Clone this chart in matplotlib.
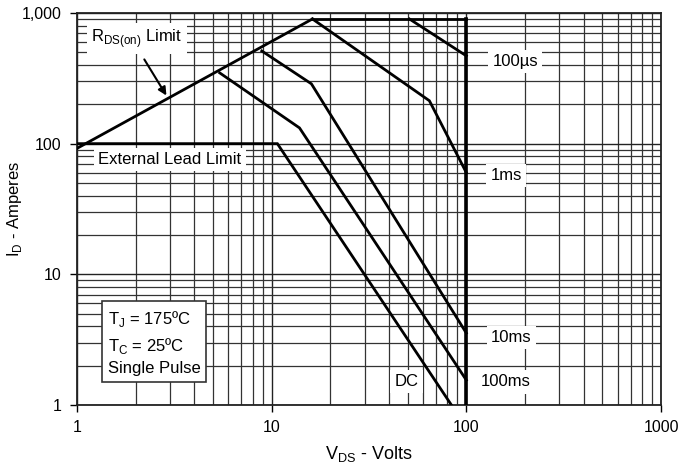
import numpy as np
import matplotlib.pyplot as plt
from matplotlib.ticker import FixedLocator, FixedFormatter, NullFormatter

plt.rcParams['font.family'] = ['Liberation Sans', 'DejaVu Sans']

# Grenzlinien des sicheren Arbeitsbereichs (V_DS in V, I_D in A)
rds_v = [1, 16.2]
rds_i = [92, 900]
top_v = [16.2, 100]
top_i = [900, 900]
us100_v = [51, 100]
us100_i = [900, 470]
ms1_v = [16.2, 64.6, 100]
ms1_i = [900, 213, 60]
ms10_v = [8.9, 16.0, 100]
ms10_i = [512, 287, 3.55]
ms100_v = [5.41, 13.9, 100]
ms100_i = [348, 132, 1.55]
dc_v = [1, 10.7, 83.8]
dc_i = [100, 100, 1]
vert_v = [100, 100]
vert_i = [900, 1]

xticks = [1, 10, 100, 1000]
xlabels = ["1", "10", "100", "1000"]
yticks = [1, 10, 100, 1000]
ylabels = ["1", "10", "100", "1,000"]

fig = plt.figure(figsize=(6.83, 4.67), dpi=100)
ax = fig.add_axes([0.1127, 0.1328, 0.8551, 0.8394])
ax.set_xscale("log")
ax.set_yscale("log")
ax.set_xlim(1, 1000)
ax.set_ylim(1, 1000)

ax.xaxis.set_major_locator(FixedLocator(xticks))
ax.xaxis.set_major_formatter(FixedFormatter(xlabels))
ax.yaxis.set_major_locator(FixedLocator(yticks))
ax.yaxis.set_major_formatter(FixedFormatter(ylabels))
minors = [m * 10 ** d for d in range(3) for m in range(2, 10)]
ax.xaxis.set_minor_locator(FixedLocator(minors))
ax.yaxis.set_minor_locator(FixedLocator(minors))
ax.xaxis.set_minor_formatter(NullFormatter())
ax.yaxis.set_minor_formatter(NullFormatter())
ax.grid(True, which="major", color="#222222", lw=1.0)
ax.grid(True, which="minor", color="#333333", lw=0.9)
ax.tick_params(which="major", length=5, width=1, labelsize=11.5, pad=6)
ax.tick_params(which="minor", length=0)
for s in ax.spines.values():
    s.set_linewidth(1.3)
    s.set_color("#222222")

lw = 2.0
for v, i in [(rds_v, rds_i), (top_v, top_i), (us100_v, us100_i), (ms1_v, ms1_i),
             (ms10_v, ms10_i), (ms100_v, ms100_i), (dc_v, dc_i)]:
    ax.plot(v, i, color="black", lw=lw, solid_joinstyle="miter", zorder=3)
ax.plot(vert_v, vert_i, color="black", lw=2.6, zorder=3)

fs = 12
wb = dict(facecolor="white", edgecolor="none", pad=3)
ax.text(2.03, 640, r"R$_{\mathregular{DS(on)}}$ Limit", fontsize=fs, ha="center", va="center", bbox=wb, zorder=4)
ax.annotate("", xy=(2.93, 224), xytext=(2.18, 460),
            arrowprops=dict(arrowstyle="-|>", color="black", lw=1.5, mutation_scale=12), zorder=4)
ax.text(3.0, 75.5, "External Lead Limit", fontsize=fs, ha="center", va="center", bbox=wb, zorder=4)
ax.text(178, 423, "100µs", fontsize=fs, ha="center", va="center", bbox=wb, zorder=4)
ax.text(160, 57, "1ms", fontsize=fs, ha="center", va="center", bbox=wb, zorder=4)
ax.text(170, 3.3, "10ms", fontsize=fs, ha="center", va="center", bbox=wb, zorder=4)
ax.text(159, 1.5, "100ms", fontsize=fs, ha="center", va="center", bbox=wb, zorder=4)
ax.text(49.3, 1.52, "DC", fontsize=fs, ha="center", va="center", bbox=wb, zorder=4)

ax.text(0.053, 0.245,
        "T$_\\mathregular{J}$ = 175ºC\nT$_\\mathregular{C}$ = 25ºC\nSingle Pulse",
        transform=ax.transAxes, fontsize=fs, ha="left", va="top", linespacing=1.45,
        bbox=dict(facecolor="white", edgecolor="#333333", lw=1.2, pad=4), zorder=4)

ax.set_xlabel(r"V$_{\mathregular{DS}}$ - Volts", fontsize=13, labelpad=6)
ax.set_ylabel(r"I$_{\mathregular{D}}$ - Amperes", fontsize=12)
ax.yaxis.set_label_coords(-0.09, 0.5)

fig.savefig("out.png", dpi=100)
